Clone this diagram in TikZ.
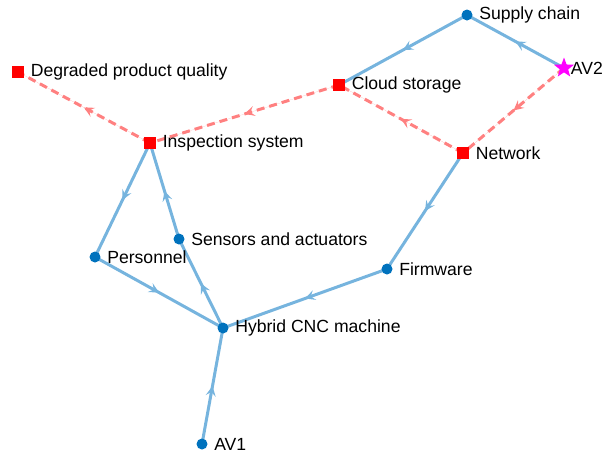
\documentclass[tikz,border=0pt]{standalone}
\usepackage{fontspec}
\setmainfont{Liberation Sans}
\usetikzlibrary{arrows.meta,shapes.geometric,decorations.markings,backgrounds}
\definecolor{clrNode}{RGB}{0,114,189}
\definecolor{clrEdge}{RGB}{118,180,222}
\definecolor{clrRisk}{RGB}{255,128,128}
\definecolor{clrAttack}{RGB}{255,0,255}
\tikzstyle{lbl}=[font=\fontsize{8.8}{10}\selectfont, inner sep=0pt, label distance=3pt]
\tikzstyle{comp}=[circle, fill=clrNode, inner sep=0pt, minimum size=5.5pt]
\tikzstyle{target}=[rectangle, fill=red, inner sep=0pt, minimum size=6pt]
\tikzstyle{attack}=[star, star points=5, star point ratio=2.4, fill=clrAttack, inner sep=0pt, minimum size=10.5pt]
\tikzstyle{midarrow}=[postaction={decorate}, decoration={markings,
  mark=at position 0.5 with {\arrow{Stealth[length=5pt,width=5pt,inset=2pt]}}}]
\tikzstyle{flow}=[midarrow, draw=clrEdge, fill=clrEdge, line width=1.5pt]
\tikzstyle{risk}=[midarrow, draw=clrRisk, fill=clrRisk, line width=1.5pt, dash pattern=on 4pt off 2.5pt]

\begin{document}
\begin{tikzpicture}[x=0.5pt, y=-0.5pt]
		\useasboundingbox (0,0) rectangle (608,457);

		% components
		\node[comp, label={[lbl]right:Supply chain}] (S) at (467,15) {};
		\node[attack, label={[lbl, label distance=0pt]right:AV2}] (V2) at (564,68) {};
		\node[target, label={[lbl]right:Cloud storage}] (C) at (339,85) {};
		\node[target, label={[lbl]right:Degraded product quality}] (Q) at (18,72) {};
		\node[target, label={[lbl]right:Inspection system}] (I) at (150,143) {};
		\node[target, label={[lbl]right:Network}] (N) at (463,153) {};
		\node[comp, label={[lbl]right:Sensors and actuators}] (SA) at (179,239) {};
		\node[comp, label={[lbl]right:Personnel}] (P) at (95,257) {};
		\node[comp, label={[lbl]right:Firmware}] (F) at (387,269) {};
		\node[comp, label={[lbl]right:Hybrid CNC machine}] (H) at (223,328) {};
		\node[comp, label={[lbl]right:AV1}] (V1) at (202,444) {};

		% edges under the markers
		\begin{scope}[on background layer]
			\draw[flow] (V2.center) -- (S.center) ;
			\draw[flow] (S.center) -- (C.center) ;
			\draw[flow] (N.center) -- (F.center) ;
			\draw[flow] (F.center) -- (H.center) ;
			\draw[flow] (V1.center) -- (H.center) ;
			\draw[flow] (H.center) -- (SA.center) ;
			\draw[flow] (SA.center) -- (I.center) ;
			\draw[flow] (I.center) -- (P.center) ;
			\draw[flow] (P.center) -- (H.center) ;

			\draw[risk] (V2.center) -- (N.center) ;
			\draw[risk] (N.center) -- (C.center) ;
			\draw[risk] (C.center) -- (I.center) ;
			\draw[risk] (I.center) -- (Q.center) ;
		\end{scope}
	\end{tikzpicture}
\end{document}
